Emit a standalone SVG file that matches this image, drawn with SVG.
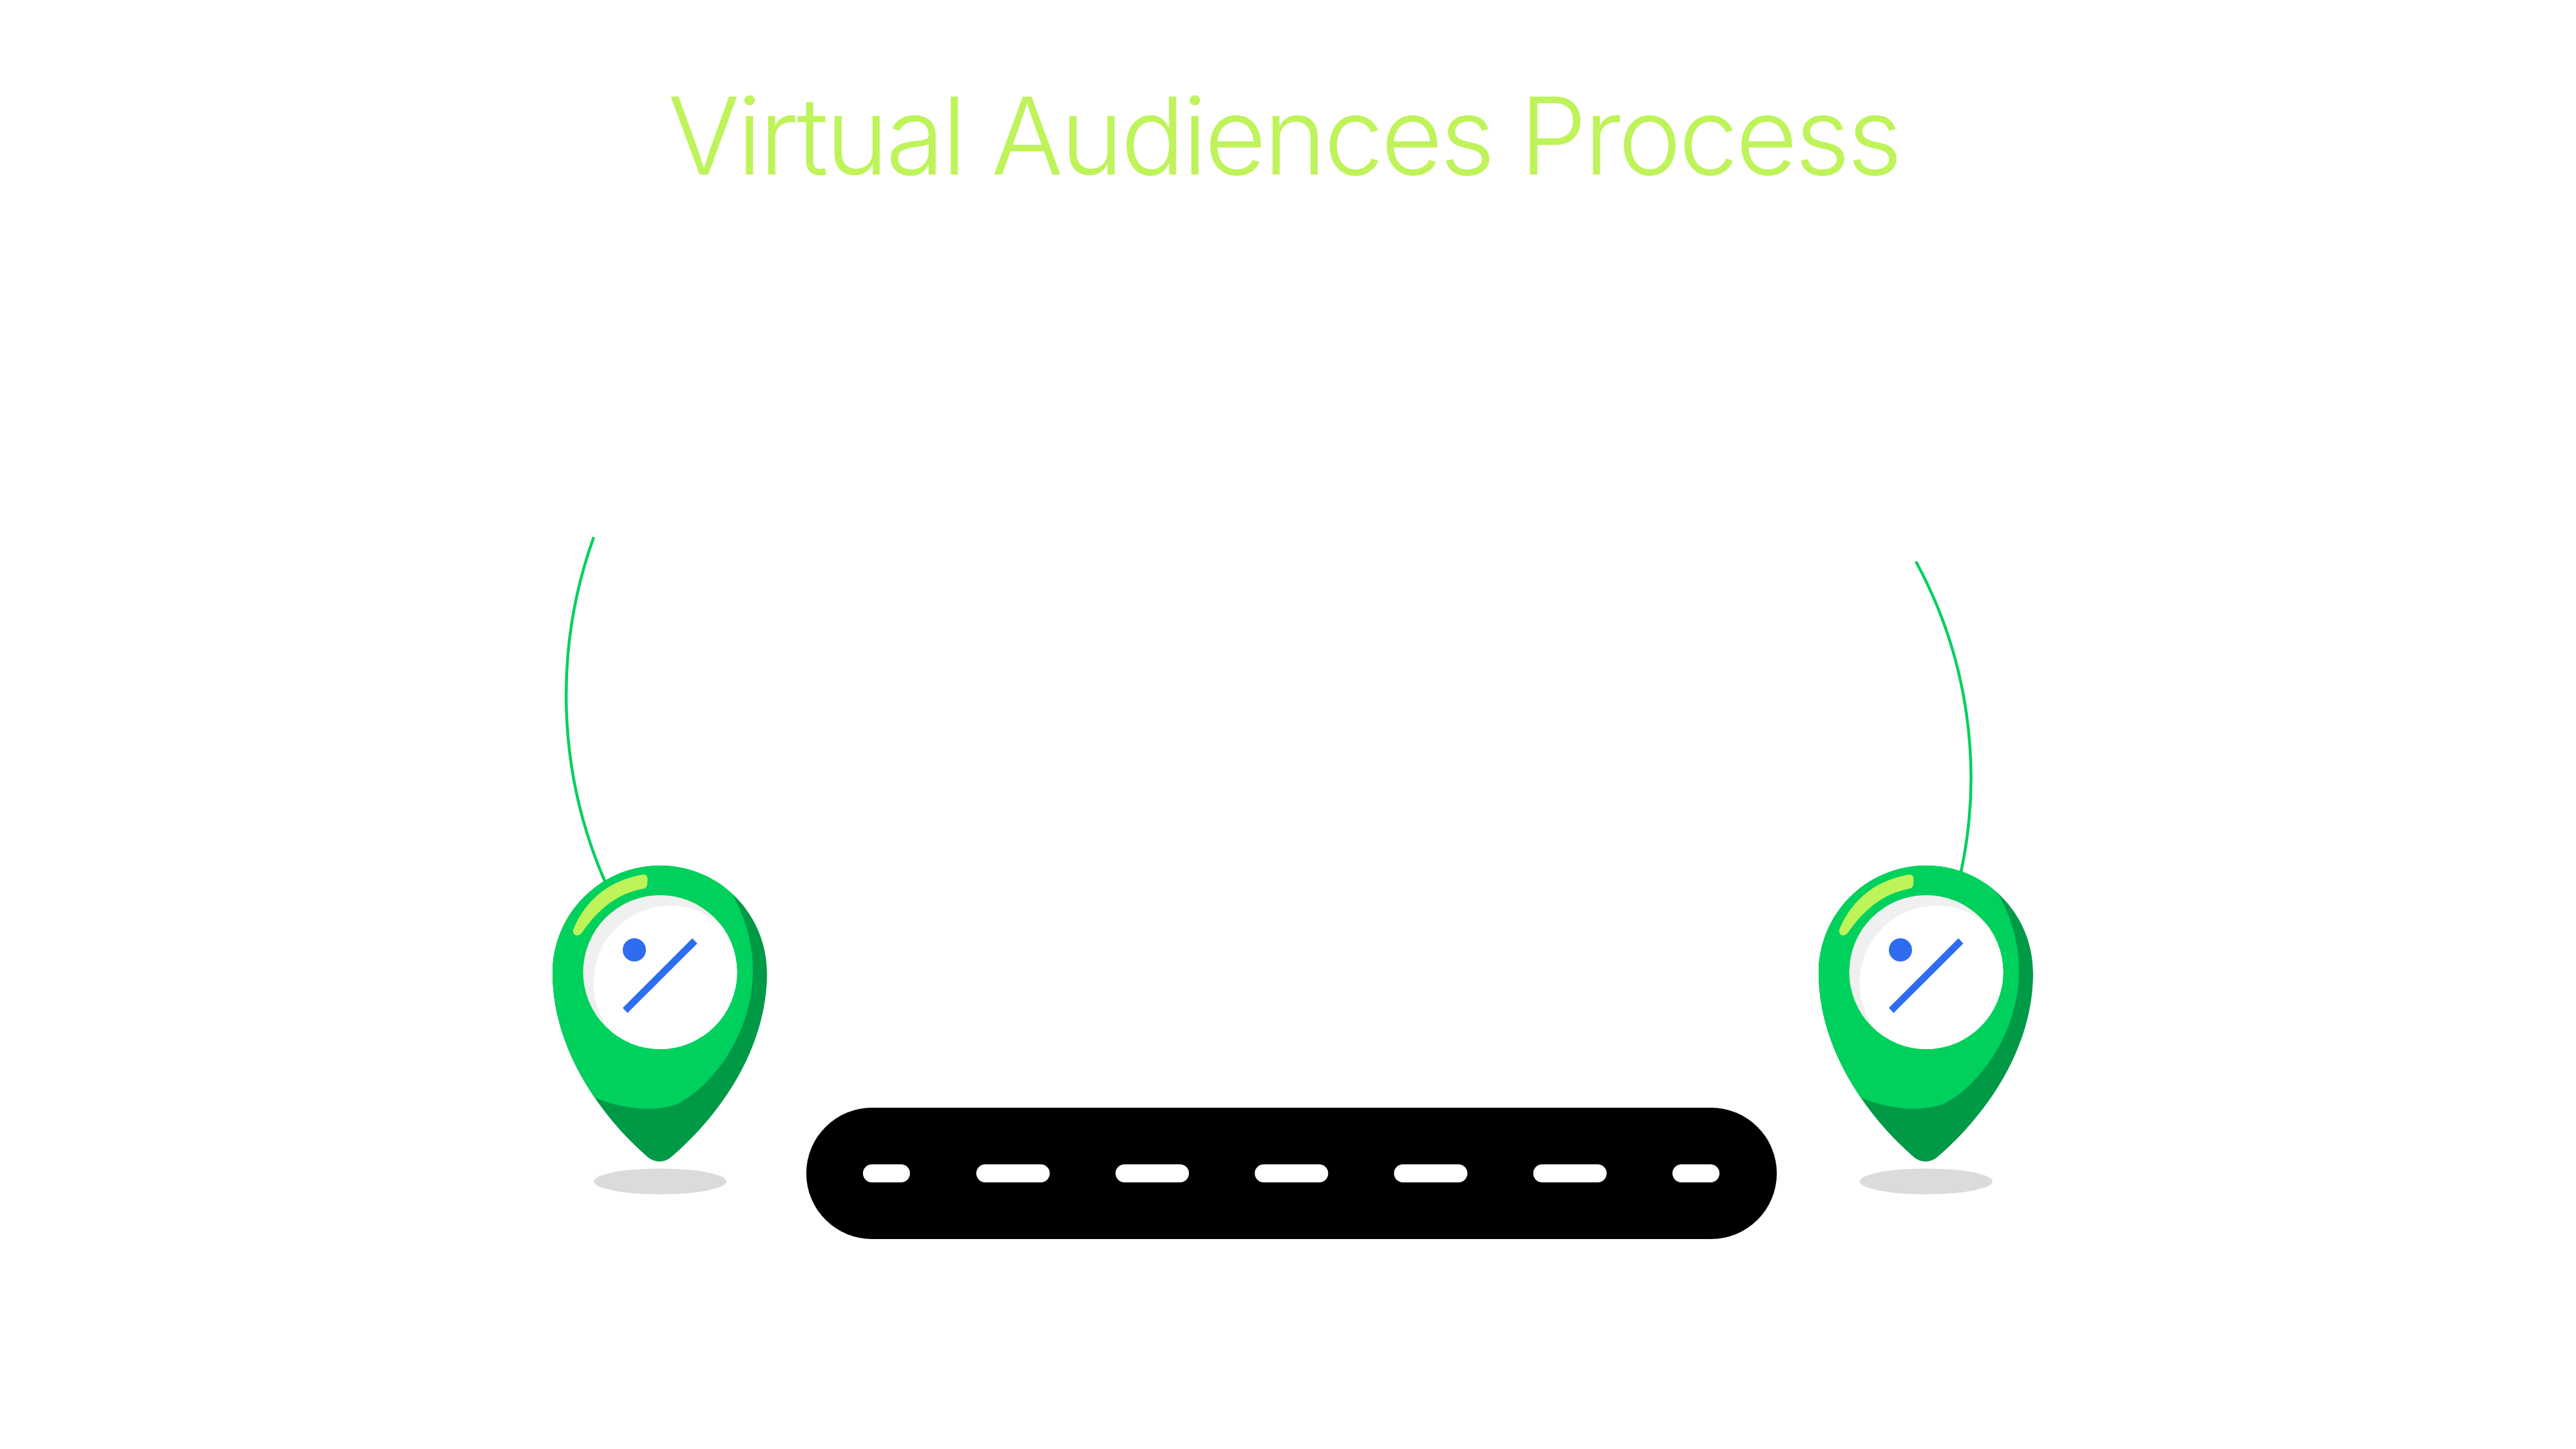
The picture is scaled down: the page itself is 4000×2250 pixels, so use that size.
<svg xmlns="http://www.w3.org/2000/svg" xmlns:xlink="http://www.w3.org/1999/xlink" width="4000" height="2250" viewBox="0 0 4000 2250">
<style>
.title{font-family:"Inter","Liberation Sans",sans-serif;font-weight:300;font-size:166px;fill:#BEF35A}
.conn{fill:none;stroke:#00D15C;stroke-width:4.5}
.dash{fill:#fff}
</style>
<defs>
<clipPath id="pinClip"><path d="M858 1511C858 1419 932 1344 1025 1344C1117 1344 1191 1419 1191 1511C1191 1628 1118 1732 1043 1796C1032 1806 1016 1806 1005 1796C932 1732 858 1628 858 1511Z"/></clipPath>
<clipPath id="faceClip"><circle cx="1025" cy="1509.5" r="119.5"/></clipPath>
<g id="pin">
<ellipse cx="1025" cy="1834.500" rx="103" ry="20" fill="#DBDBDB"/>
<path d="M858 1511C858 1419 932 1344 1025 1344C1117 1344 1191 1419 1191 1511C1191 1628 1118 1732 1043 1796C1032 1806 1016 1806 1005 1796C932 1732 858 1628 858 1511Z" fill="#009A47"/>
<path clip-path="url(#pinClip)" d="M840 1330H1120L1135 1385C1155 1420 1169 1460 1169 1507C1169 1610 1100 1692 1050 1715C1010 1728 960 1720 923 1704L840 1720Z" fill="#00D15C"/>
<circle cx="1025" cy="1509.5" r="119.5" fill="#F0F0F0"/>
<circle cx="1041" cy="1526" r="119.5" fill="#fff" clip-path="url(#faceClip)"/>
<path d="M891 1441C912 1394 948 1367 998 1358Q1005.500 1357 1005.500 1365L1005 1374Q1004 1379 999 1380C960 1387 930 1410 903 1449Q897 1455 892 1451Q888 1447 891 1441Z" fill="#BEF35A"/>
<circle cx="985" cy="1475" r="18" fill="#2E6CF0"/>
<polygon points="1075,1457 1082.700,1465 974.300,1573 967,1565" fill="#2E6CF0"/>
</g>
</defs>
<text class="title" x="1037" y="271" id="title" textLength="1917" lengthAdjust="spacing">Virtual Audiences Process</text>
<g id="connectors">
<path class="conn" d="M922 834A725 725 0 0 0 939 1368"/>
<path class="conn" d="M2975 872A700 700 0 0 1 3045 1354"/>
</g>
<g id="pin-left"><use xlink:href="#pin" href="#pin"/></g>
<g id="pin-right"><use xlink:href="#pin" href="#pin" transform="translate(1966 0)"/></g>
<g id="road">
<rect x="1252" y="1720" width="1507" height="204" rx="102" fill="#000"/>
<rect class="dash" x="1340" y="1808" width="73" height="28" rx="14"/>
<rect class="dash" x="1516" y="1808" width="114" height="28" rx="14"/>
<rect class="dash" x="1732.200" y="1808" width="114" height="28" rx="14"/>
<rect class="dash" x="1948.400" y="1808" width="114" height="28" rx="14"/>
<rect class="dash" x="2164.600" y="1808" width="114" height="28" rx="14"/>
<rect class="dash" x="2380.800" y="1808" width="114" height="28" rx="14"/>
<rect class="dash" x="2597" y="1808" width="73" height="28" rx="14"/>
</g>
</svg>
